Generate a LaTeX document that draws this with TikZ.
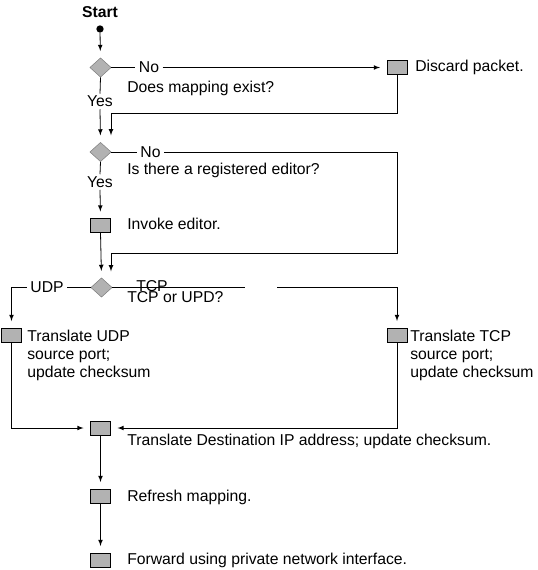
\documentclass[tikz,border=0pt]{standalone}
\usepackage{fontspec}
\setmainfont{Liberation Sans}
\usepackage{tikz}
\usetikzlibrary{arrows,shapes.geometric}
\tikzset{
  flow/.style={draw=black,line width=0.6pt,-latex,shorten >=5pt},
  wire/.style={draw=black,line width=0.6pt},
  decision/.style={diamond,draw=gray,fill=gray!60,minimum width=16pt,minimum height=14.5pt,inner sep=0pt},
  task/.style={rectangle,draw=black,line width=0.5pt,fill=gray!60,minimum width=15pt,minimum height=10.5pt,inner sep=0pt},
  note/.style={anchor=west,inner sep=0pt,align=left,font=\fontsize{11.8}{13.5}\selectfont},
  branch/.style={inner xsep=2.5pt,inner ysep=1.5pt,font=\fontsize{11.8}{13.5}\selectfont},
  dot/.style={circle,fill=black,inner sep=0pt,minimum size=5.5pt}
}

\begin{document}
\begin{tikzpicture}[x=7.5pt,y=-7.5pt]
    \useasboundingbox (0,0) rectangle (53.7,57.0);
    \node[font=\bfseries\fontsize{11.8}{13.5}\selectfont] (start) at (10.0,1.2) {Start};
    \node[dot] (s0) at (10.0,2.9) {};
    \node[decision] (d1) at (10.05,6.75) {};
    \node[branch] (no1) at (14.9,6.75) {No};
    \node[task] (b0) at (39.7,6.75) {};
    \node[note] (t0) at (41.5,6.7) {Discard packet.};
    \node[note] (q1) at (12.7,8.8) {Does mapping exist?};
    \node[branch] (yes1) at (10.0,10.15) {Yes};
    \coordinate (r1) at (39.7,11.3);
    \coordinate (r1e) at (11.1,14.2);
    \node[decision] (d2) at (10.05,15.2) {};
    \node[branch] (no2) at (15.05,15.2) {No};
    \node[note] (q2) at (12.7,17.05) {Is there a registered editor?};
    \node[branch] (yes2) at (10.0,18.2) {Yes};
    \coordinate (r2) at (39.7,25.3);
    \coordinate (r2e) at (11.1,27.8);
    \node[task] (b1) at (10.05,22.55) {};
    \node[note] (t1) at (12.7,22.4) {Invoke editor.};
    \node[decision] (d3) at (10.15,28.75) {};
    \node[branch] (udp) at (4.7,28.75) {UDP};
    \node[branch] (tcp) at (15.2,28.65) {TCP};
    \coordinate (g1) at (24.5,28.75);
    \coordinate (g2) at (27.7,28.75);
    \node[note] (q3) at (12.7,29.75) {TCP or UPD?};
    \node[task] (b2) at (1.15,33.5) {};
    \node[note] (t2) at (2.7,35.5) {Translate UDP\\source port;\\update checksum};
    \node[task] (b3) at (39.7,33.5) {};
    \node[note] (t3) at (41.0,35.5) {Translate TCP\\source port;\\update checksum};
    \node[task] (b4) at (10.05,42.8) {};
    \node[note] (t4) at (12.7,44.1) {Translate Destination IP address; update checksum.};
    \node[task] (b5) at (10.05,49.6) {};
    \node[note] (t5) at (12.7,49.7) {Refresh mapping.};
    \node[task] (b6) at (10.05,56.0) {};
    \node[note] (t6) at (12.7,56.0) {Forward using private network interface.};
    \draw[flow] (s0) -- (d1);
    \draw[wire] (d1.east) -- (no1.west);
    \draw[flow] (no1.east) -- (b0.west);
    \draw[wire] (d1.south) -- (yes1.north);
    \draw[flow] (yes1.south) -- (d2.north);
    \draw[flow] (b0.south) -- (r1) -| (r1e);
    \draw[wire] (d2.east) -- (no2.west);
    \draw[flow] (no2.east) -| (r2) -| (r2e);
    \draw[wire] (d2.south) -- (yes2.north);
    \draw[flow] (yes2.south) -- (b1.north);
    \draw[flow] (b1.south) -- (d3.north);
    \draw[wire] (d3.west) -- (udp.east);
    \draw[flow] (udp.west) -| (b2.north);
    \draw[wire] (d3.east) -- (g1);
    \draw[flow] (g2) -| (b3.north);
    \draw[flow] (b2.south) |- (b4.west);
    \draw[flow] (b3.south) |- (b4.east);
    \draw[flow] (b4.south) -- (b5.north);
    \draw[flow] (b5.south) -- (b6.north);
\end{tikzpicture}
\end{document}
